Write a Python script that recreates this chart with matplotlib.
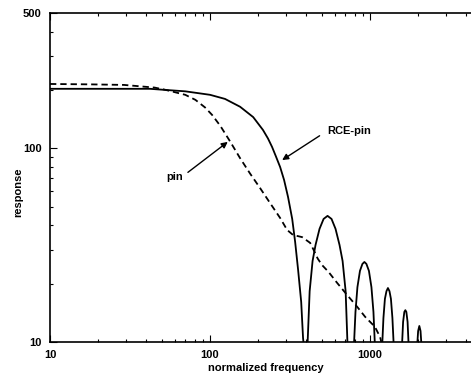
import matplotlib
matplotlib.use('Agg')
import matplotlib.pyplot as plt
from matplotlib.ticker import LogLocator, NullFormatter, FixedLocator, FixedFormatter

plt.rcParams['font.family'] = ['Liberation Sans', 'DejaVu Sans']
plt.rcParams['font.weight'] = 'bold'

# RCE-pin (solid), low values = below the axis
rce_x = [10, 42, 70, 100, 124, 154, 186, 214, 230, 244, 258, 274, 290, 307, 326, 340, 355, 371, 381, 388, 396,
         406, 419, 437, 456, 483, 512, 542, 574, 608, 644, 673, 703, 723, 755,
         792, 810, 833, 864, 895, 921, 948, 983, 1019, 1049, 1072, 1130,
         1189, 1211, 1237, 1265, 1292, 1321, 1349, 1378, 1405, 1490,
         1581, 1607, 1636, 1660, 1684, 1714, 1741, 1850,
         1967, 1995, 2030, 2065, 2095, 2200, 5000]
rce_y = [203, 203, 197, 189, 180, 164, 145, 124.5, 112.5, 101.7, 90.8, 80.1, 68.7, 56.1, 43.2, 32.9, 23.5, 16.1, 10.5, 9, 3,
         9.5, 18.3, 26.2, 31.7, 38.4, 43.2, 44.8, 43.2, 38.4, 31.7, 26.2, 18.3, 9.5, 3,
         9.5, 14.3, 19.2, 23.3, 25.3, 25.9, 25.3, 23.3, 19.2, 14.3, 9.5, 3,
         9.5, 13.3, 16.7, 18.3, 19.0, 18.3, 16.7, 13.3, 9.5, 3,
         9.5, 12.7, 14.3, 14.6, 14.3, 12.7, 9.5, 3,
         9.5, 11.4, 12.1, 11.4, 9.5, 3, 3]

# pin (dashed)
pin_x = [10, 18, 29, 45, 52, 70, 81, 93, 103, 116, 133, 154, 178, 205, 237, 274, 303, 330,
         376, 422, 447, 470, 500, 550, 622, 718, 830, 930, 1070, 1155, 1250]
pin_y = [215, 214, 212.6, 206, 201, 189, 178, 162.7, 148.8, 130.5, 109, 89, 74, 62.5, 52.2, 43.7,
         37.9, 35.7, 34.8, 32.5, 29.5, 27, 25, 23, 20.2, 17.5, 15.2, 13.5, 12, 10.6, 8]

ytick_vals = [10, 100, 500]
xtick_vals = [10, 100, 1000]

fig = plt.figure(figsize=(4.71, 3.80), dpi=100)
ax = fig.add_axes([50/471, 38/380, 432/471, 329/380])

ax.plot(rce_x, rce_y, color='black', lw=1.3)
ax.plot(pin_x, pin_y, color='black', lw=1.3, linestyle=(0, (3.5, 2.2)))

ax.set_xscale('log')
ax.set_yscale('log')
ax.set_xlim(10, 5000)
ax.set_ylim(10, 500)

ax.xaxis.set_major_locator(FixedLocator(xtick_vals))
ax.xaxis.set_major_formatter(FixedFormatter([str(v) for v in xtick_vals]))
ax.xaxis.set_minor_locator(LogLocator(base=10, subs=range(2, 10)))
ax.xaxis.set_minor_formatter(NullFormatter())
ax.yaxis.set_major_locator(FixedLocator(ytick_vals))
ax.yaxis.set_major_formatter(FixedFormatter([str(v) for v in ytick_vals]))
ax.yaxis.set_minor_locator(LogLocator(base=10, subs=range(2, 10)))
ax.yaxis.set_minor_formatter(NullFormatter())

ax.tick_params(which='both', direction='in', top=True, right=True, labelsize=8, width=0.8)
ax.tick_params(which='major', length=5, pad=6)
ax.tick_params(which='minor', length=2.5)
for s in ax.spines.values():
    s.set_linewidth(1.2)

ax.set_xlabel('normalized frequency', fontsize=8, fontweight='bold', labelpad=2)
ax.set_ylabel('response', fontsize=8, fontweight='bold')
ax.yaxis.set_label_coords(-0.0625, 0.456)

ax.annotate('pin', xy=(129, 108), xytext=(60, 71), fontsize=8, fontweight='bold',
            ha='center', va='center',
            arrowprops=dict(arrowstyle='-|>', color='black', lw=1, mutation_scale=9,
                            shrinkA=2, shrinkB=0, relpos=(1, 0.6)))
ax.annotate('RCE-pin', xy=(282, 87), xytext=(538, 123), fontsize=8, fontweight='bold',
            ha='left', va='center',
            arrowprops=dict(arrowstyle='-|>', color='black', lw=1, mutation_scale=9,
                            shrinkA=4, shrinkB=0, relpos=(0, 0.5)))

fig.savefig('out.png', dpi=100)
